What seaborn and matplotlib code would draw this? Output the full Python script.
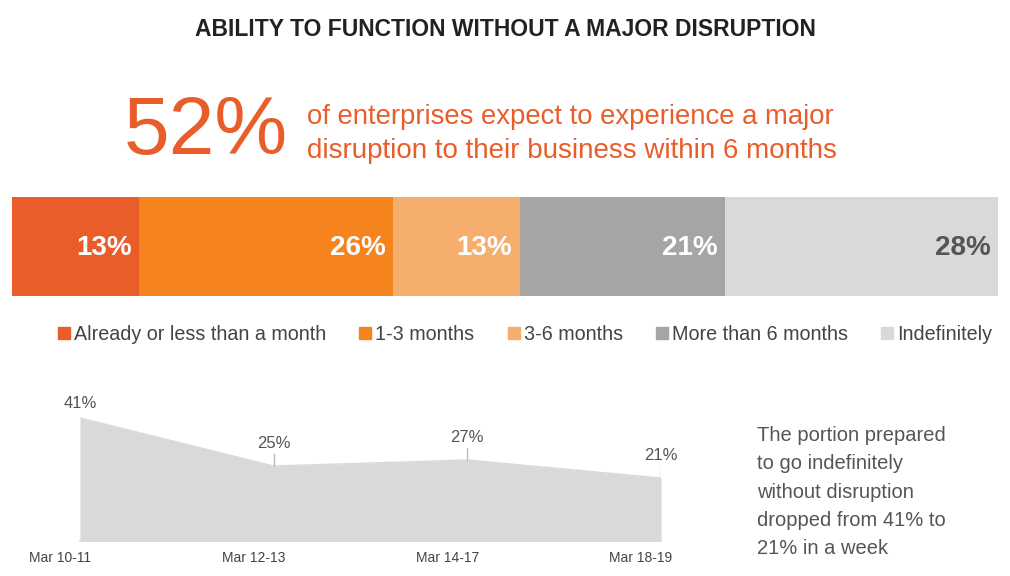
import matplotlib
matplotlib.use("Agg")
import matplotlib.pyplot as plt
import matplotlib.transforms as mtransforms
from matplotlib.lines import Line2D
import seaborn as sns
import numpy as np
import pandas as pd

sns.set_theme(style="white")
plt.rcParams['font.family'] = ['Liberation Sans Narrow', 'Liberation Sans', 'DejaVu Sans']

# ---- data ----
categories = ["Already or less than a month", "1-3 months", "3-6 months", "More than 6 months", "Indefinitely"]
shares = [13, 26, 13, 21, 28]
bar_colors = ["#E95D2A", "#F5841F", "#F6AE6C", "#A5A5A4", "#D9D9D9"]
label_colors = ["white", "white", "white", "white", "#555555"]

dates = ["Mar 10-11", "Mar 12-13", "Mar 14-17", "Mar 18-19"]
indefinitely = [41, 25, 27, 21]

W, H = 1010, 576
fig = plt.figure(figsize=(W / 100, H / 100), dpi=100)
fig.patch.set_facecolor("white")

def fx(px):
    return px / W

def fy(py):
    return 1 - py / H

# ---- titles ----
fig.text(0.5, fy(30), "ABILITY TO FUNCTION WITHOUT A MAJOR DISRUPTION", ha="center", va="center",
         fontsize=16.5, fontweight="bold", color="#222222")
orange = "#E95D2A"
fig.text(fx(124), fy(133), "52%", ha="left", va="center", fontsize=59, color=orange)
fig.text(fx(307), fy(117), "of enterprises expect to experience a major", ha="left", va="center",
         fontsize=19.8, color=orange)
fig.text(fx(307), fy(151), "disruption to their business within 6 months", ha="left", va="center",
         fontsize=20, color=orange)

# ---- stacked bar ----
axb = fig.add_axes([fx(12), fy(296), fx(986), 99 / H])
cum = np.cumsum(shares)
df_bar = pd.DataFrame({"cat": categories, "cum": cum, "row": ["all"] * len(categories)})
# draw from the longest cumulative to the shortest so each segment shows
for i in range(len(categories) - 1, -1, -1):
    sns.barplot(data=df_bar.iloc[[i]], x="cum", y="row", color=bar_colors[i], width=1.0,
                saturation=1, ax=axb, orient="h", edgecolor="none", linewidth=0)
axb.set_xlim(0, cum[-1])
axb.set_ylim(0.5, -0.5)
axb.axis("off")
for i, c in enumerate(cum):
    axb.text(c - 0.75, 0.02, f"{shares[i]}%", ha="right", va="center", fontsize=20, fontweight="bold",
             color=label_colors[i])

# ---- legend ----
handles = [Line2D([0], [0], marker="s", linestyle="none", markersize=9, markerfacecolor=c,
                  markeredgecolor=c) for c in bar_colors]
fig.legend(handles, categories, loc="center", bbox_to_anchor=(fx(524), fy(334)), ncol=5,
           frameon=False, fontsize=14.2, handletextpad=0.1, columnspacing=1.6, handlelength=0.8,
           labelcolor="#444444")

# ---- area chart ----
axa = fig.add_axes([fx(80), fy(541), fx(581), 135 / H])
xs = np.arange(len(dates))
df_area = pd.DataFrame({"x": xs, "v": indefinitely})
axa.fill_between(xs, 0, indefinitely, color="#D9D9D9", linewidth=0)
sns.lineplot(data=df_area, x="x", y="v", ax=axa, color="#D9D9D9", linewidth=1)
axa.set_xlim(0, 3)
axa.set_ylim(0, 45)
for s in ["top", "right", "left"]:
    axa.spines[s].set_visible(False)
axa.spines["bottom"].set_color("#D9D9D9")
axa.set_yticks([])
axa.set_xticks(xs)
axa.set_xticklabels(dates, fontsize=10, color="#444444")
axa.tick_params(axis="x", length=4, color="#D9D9D9", width=1, pad=3)
shift = mtransforms.ScaledTranslation(-20 / 100, 0, fig.dpi_scale_trans)
for lbl in axa.get_xticklabels():
    lbl.set_transform(lbl.get_transform() + shift)
axa.set_xlabel("")
axa.set_ylabel("")
for i, v in enumerate(indefinitely):
    if i == 0:
        axa.text(xs[i], v + 2.5, f"{v}%", ha="center", va="bottom", fontsize=12, color="#555555")
    else:
        axa.plot([xs[i], xs[i]], [v, v + 4], color="#BBBBBB", linewidth=1)
        axa.text(xs[i], v + 5, f"{v}%", ha="center", va="bottom", fontsize=12, color="#555555")
axa.patch.set_alpha(0)

# ---- side note ----
note = "The portion prepared\nto go indefinitely\nwithout disruption\ndropped from 41% to\n21% in a week"
fig.text(fx(757), fy(426), note, ha="left", va="top", fontsize=14.5, color="#555555", linespacing=1.62)

fig.savefig("out.png", dpi=100)
